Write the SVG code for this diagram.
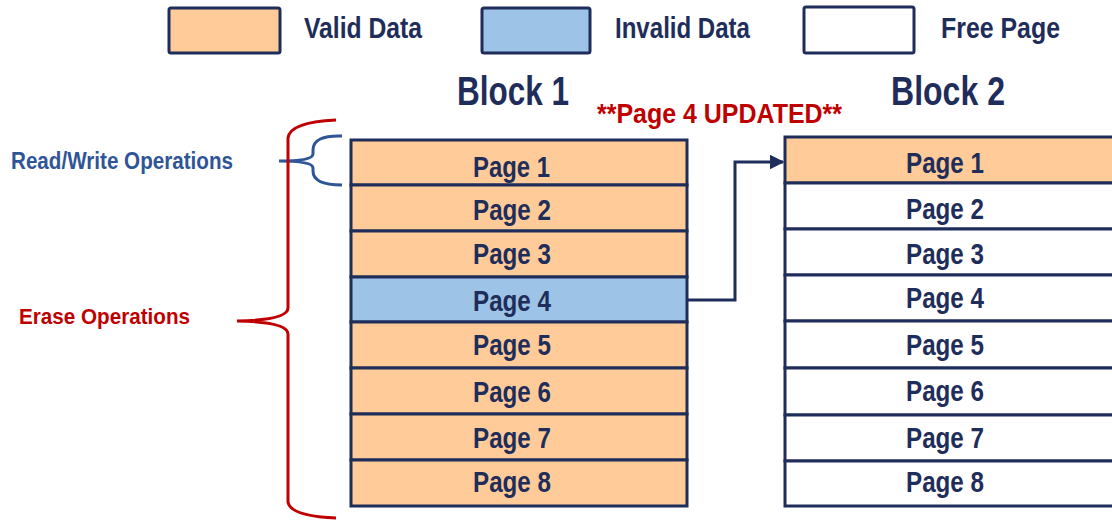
<svg xmlns="http://www.w3.org/2000/svg" width="1112" height="520" viewBox="0 0 1112 520">
<style>
text{font-family:"Liberation Sans",Arial,sans-serif;font-weight:bold}
.navy{fill:#1f2d5a}
.pg{font-size:30px;fill:#1f2d5a}
.cell{stroke:#1f2d5a;stroke-width:3}
.valid{fill:#ffcc99}
.invalid{fill:#9dc3e6}
.free{fill:#ffffff}
.red{fill:#c00000}
</style>
<defs>
<marker id="ah" viewBox="0 0 10 10" refX="9" refY="5" markerWidth="5" markerHeight="5" markerUnits="strokeWidth" orient="auto">
<path d="M0,0 L10,5 L0,10 z" fill="#1f2d5a"/>
</marker>
</defs>
<g id="legend">
<rect x="169" y="8" width="111" height="45" rx="2" class="cell valid"/>
<text x="304" y="38" class="navy" font-size="30" textLength="118" lengthAdjust="spacingAndGlyphs">Valid Data</text>
<rect x="482" y="8" width="108" height="45" rx="2" class="cell invalid"/>
<text x="615" y="38" class="navy" font-size="30" textLength="135" lengthAdjust="spacingAndGlyphs">Invalid Data</text>
<rect x="804" y="7" width="110" height="46" rx="2" class="cell free"/>
<text x="941" y="38" class="navy" font-size="30" textLength="119" lengthAdjust="spacingAndGlyphs">Free Page</text>
</g>
<g id="titles">
<text x="457" y="105" class="navy" font-size="40" textLength="112" lengthAdjust="spacingAndGlyphs">Block 1</text>
<text x="891" y="105" class="navy" font-size="40" textLength="114" lengthAdjust="spacingAndGlyphs">Block 2</text>
<text x="597" y="123" class="red" font-size="28" textLength="245" lengthAdjust="spacingAndGlyphs">**Page 4 UPDATED**</text>
</g>
<g id="block1">
<rect x="351" y="140" width="336" height="45" class="cell valid"/>
<rect x="351" y="185" width="336" height="46" class="cell valid"/>
<rect x="351" y="231" width="336" height="46" class="cell valid"/>
<rect x="351" y="277" width="336" height="45" class="cell invalid"/>
<rect x="351" y="322" width="336" height="46" class="cell valid"/>
<rect x="351" y="368" width="336" height="46" class="cell valid"/>
<rect x="351" y="414" width="336" height="46" class="cell valid"/>
<rect x="351" y="460" width="336" height="46" class="cell valid"/>
<text x="473" y="177" class="pg" textLength="77" lengthAdjust="spacingAndGlyphs">Page 1</text>
<text x="473" y="220" class="pg" textLength="78" lengthAdjust="spacingAndGlyphs">Page 2</text>
<text x="473" y="264" class="pg" textLength="78" lengthAdjust="spacingAndGlyphs">Page 3</text>
<text x="473" y="311" class="pg" textLength="78" lengthAdjust="spacingAndGlyphs">Page 4</text>
<text x="473" y="355" class="pg" textLength="78" lengthAdjust="spacingAndGlyphs">Page 5</text>
<text x="473" y="402" class="pg" textLength="78" lengthAdjust="spacingAndGlyphs">Page 6</text>
<text x="473" y="448" class="pg" textLength="78" lengthAdjust="spacingAndGlyphs">Page 7</text>
<text x="473" y="492" class="pg" textLength="78" lengthAdjust="spacingAndGlyphs">Page 8</text>
</g>
<g id="block2">
<rect x="785" y="137" width="340" height="46" class="cell valid"/>
<rect x="785" y="183" width="340" height="46" class="cell free"/>
<rect x="785" y="229" width="340" height="46" class="cell free"/>
<rect x="785" y="275" width="340" height="46" class="cell free"/>
<rect x="785" y="321" width="340" height="47" class="cell free"/>
<rect x="785" y="368" width="340" height="47" class="cell free"/>
<rect x="785" y="415" width="340" height="46" class="cell free"/>
<rect x="785" y="461" width="340" height="45" class="cell free"/>
<text x="906" y="173" class="pg" textLength="78" lengthAdjust="spacingAndGlyphs">Page 1</text>
<text x="906" y="219" class="pg" textLength="78" lengthAdjust="spacingAndGlyphs">Page 2</text>
<text x="906" y="264" class="pg" textLength="78" lengthAdjust="spacingAndGlyphs">Page 3</text>
<text x="906" y="308" class="pg" textLength="78" lengthAdjust="spacingAndGlyphs">Page 4</text>
<text x="906" y="355" class="pg" textLength="78" lengthAdjust="spacingAndGlyphs">Page 5</text>
<text x="906" y="401" class="pg" textLength="78" lengthAdjust="spacingAndGlyphs">Page 6</text>
<text x="906" y="448" class="pg" textLength="78" lengthAdjust="spacingAndGlyphs">Page 7</text>
<text x="906" y="492" class="pg" textLength="78" lengthAdjust="spacingAndGlyphs">Page 8</text>
</g>
<g id="rw-label">
<path d="M342,136 Q313,135 313,150 L313,154 Q313,161 279,161 Q313,161 313,168 L313,171 Q313,185 342,185" fill="none" stroke="#2f5597" stroke-width="3"/>
<text x="11" y="169" fill="#2f5597" font-size="23" textLength="222" lengthAdjust="spacingAndGlyphs">Read/Write Operations</text>
</g>
<g id="erase-label">
<path d="M336,120 Q290,122 288,138 L288,308 Q288,320 237,321 Q288,322 288,334 L288,502 Q290,516 336,518" fill="none" stroke="#c00000" stroke-width="3"/>
<text x="19" y="324" class="red" font-size="22" textLength="171" lengthAdjust="spacingAndGlyphs">Erase Operations</text>
</g>
<g id="connectors">
<path d="M687,300 L735,300 L735,162 L783,162" fill="none" stroke="#1f2d5a" stroke-width="3" marker-end="url(#ah)"/>
</g>
</svg>
